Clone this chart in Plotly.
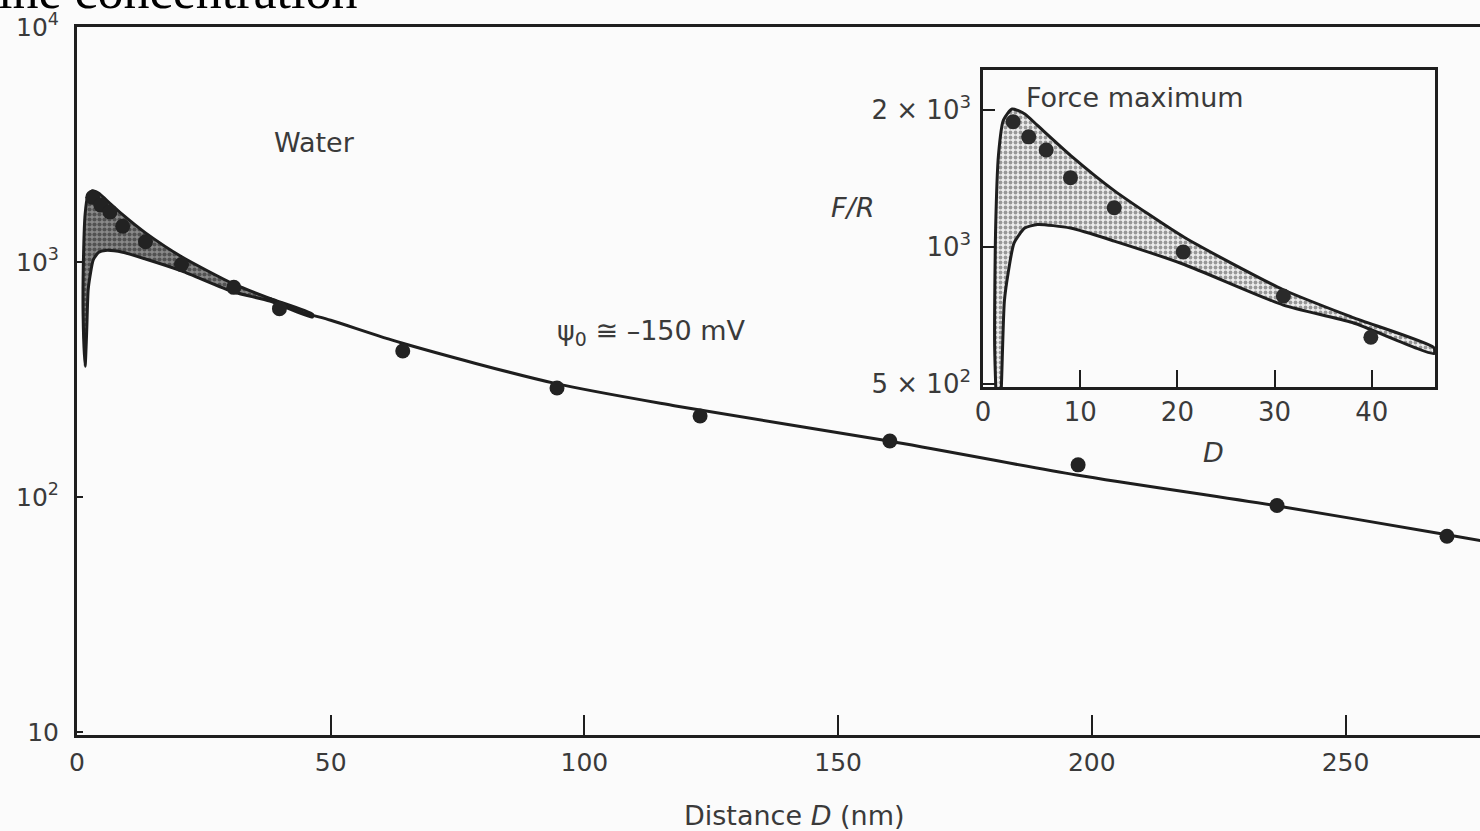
import plotly.graph_objects as go

# ---------------- data ----------------
# shaded band (range of theoretical force curves near contact)
band_outer_D = [1.6, 1.2, 1.3, 1.6, 2.1, 3.0, 4.3, 5.6, 9.0, 13.5, 20.7, 30.9, 38.0, 46.4]
band_outer_F = [360, 600, 1100, 1600, 1900, 2010, 1960, 1850, 1590, 1330, 1050, 805, 700, 600]
band_inner_D = [46.4, 38.0, 30.9, 20.7, 13.5, 9.0, 5.6, 4.3, 3.2, 2.6, 2.2, 1.9, 1.6]
band_inner_F = [583, 682, 745, 915, 1030, 1100, 1120, 1100, 1021, 880, 760, 500, 360]

# theoretical curve at larger separations
theory_D = [38, 44, 50, 64, 94, 118, 160, 197, 236, 270, 277]
theory_F = [700, 615, 565, 452, 305, 244, 173, 124, 92, 69, 65]

# measured points
exp_D = [3.1, 4.7, 6.5, 9.0, 13.5, 20.6, 30.9, 39.9, 64.2, 94.6, 122.8, 160.2, 197.3, 236.5, 270.0]
exp_F = [1884, 1746, 1634, 1419, 1219, 975, 780, 633, 418, 291, 221, 173, 137, 92, 68]

main_xticks = [0, 50, 100, 150, 200, 250]
main_yticks = [10, 100, 1000, 10000]
main_yticktext = ["10", "10<sup>2</sup>", "10<sup>3</sup>", "10<sup>4</sup>"]
inset_xticks = [0, 10, 20, 30, 40]
inset_yticks = [500, 1000, 2000]
inset_yticktext = ["5 × 10<sup>2</sup>", "10<sup>3</sup>", "2 × 10<sup>3</sup>"]

# ---------------- layout geometry ----------------
W_FIG, H_FIG = 1480, 831
L, R, T, B = 77, 1480, 27, 735
PW, PH = R - L, B - T


def px(x):
    return (x - L) / PW


def py(y):
    return (B - y) / PH


INK = "#1e1e1e"
TXT = "#3a3a3a"
FONT = "DejaVu Sans, Liberation Sans, Arial, sans-serif"

poly_D = band_outer_D + band_inner_D
poly_F = band_outer_F + band_inner_F

fig = go.Figure()

# main chart
fig.add_trace(go.Scatter(
    x=poly_D, y=poly_F, mode="lines", fill="toself",
    line=dict(color=INK, width=3, shape="spline", smoothing=0.6),
    fillcolor="#555555",
    fillpattern=dict(shape=".", fgcolor="#1a1a1a", bgcolor="#8a8a8a", size=5, solidity=0.55),
    xaxis="x", yaxis="y", showlegend=False, hoverinfo="skip"))
fig.add_trace(go.Scatter(
    x=theory_D, y=theory_F, mode="lines",
    line=dict(color=INK, width=3, shape="spline", smoothing=0.8),
    xaxis="x", yaxis="y", showlegend=False))
fig.add_trace(go.Scatter(
    x=exp_D, y=exp_F, mode="markers",
    marker=dict(color="#222222", size=15),
    xaxis="x", yaxis="y", showlegend=False))

# inset
fig.add_trace(go.Scatter(
    x=poly_D, y=poly_F, mode="lines", fill="toself",
    line=dict(color=INK, width=3, shape="spline", smoothing=0.6),
    fillcolor="#cccccc",
    fillpattern=dict(shape=".", fgcolor="#444444", bgcolor="#ececec", size=5, solidity=0.45),
    xaxis="x2", yaxis="y2", showlegend=False, hoverinfo="skip"))
fig.add_trace(go.Scatter(
    x=exp_D, y=exp_F, mode="markers",
    marker=dict(color="#2a2a2a", size=15),
    xaxis="x2", yaxis="y2", showlegend=False))

ix0, ix1, iy0, iy1 = 983, 1435, 70, 387

fig.update_layout(
    width=W_FIG, height=H_FIG,
    margin=dict(l=L, r=W_FIG - R, t=T, b=H_FIG - B),
    paper_bgcolor="#fbfbfb", plot_bgcolor="#fbfbfb",
    font=dict(family=FONT, color=TXT, size=24),
    xaxis=dict(
        domain=[0, 1], range=[0, (R - L) / 5.074],
        tickvals=main_xticks, ticks="inside", ticklen=20, tickwidth=2, tickcolor=INK,
        showline=True, linewidth=3, linecolor=INK, mirror=True,
        showgrid=False, zeroline=False,
        tickfont=dict(size=25, color=TXT), ticklabelstandoff=3),
    yaxis=dict(
        domain=[0, 1], type="log", range=[0.987, 4.0],
        tickvals=main_yticks, ticktext=main_yticktext,
        ticks="inside", ticklen=6, tickwidth=2, tickcolor=INK,
        showline=True, linewidth=3, linecolor=INK,
        showgrid=False, zeroline=False,
        tickfont=dict(size=25, color=TXT), ticklabelstandoff=10),
    xaxis2=dict(
        domain=[px(ix0), px(ix1)], anchor="y2", range=[0, 46.5],
        tickvals=inset_xticks, ticks="inside", ticklen=17, tickwidth=2, tickcolor=INK,
        showline=True, linewidth=2.5, linecolor=INK, mirror=True,
        showgrid=False, zeroline=False,
        tickfont=dict(size=26, color=TXT), ticklabelstandoff=0),
    yaxis2=dict(
        domain=[py(iy1), py(iy0)], anchor="x2", type="log", range=[2.692, 3.389],
        tickvals=inset_yticks, ticktext=inset_yticktext,
        ticks="inside", ticklen=12, tickwidth=2, tickcolor=INK,
        showline=True, linewidth=2.5, linecolor=INK, mirror=True,
        showgrid=False, zeroline=False,
        tickfont=dict(size=26, color=TXT), ticklabelstandoff=4),
)

ann = [
    dict(text="ine concentration", x=px(-4), y=py(-9), xanchor="left", yanchor="middle",
         font=dict(family="Liberation Serif, Times New Roman, serif", size=52, color="#000000")),
    dict(text="Water", x=px(314), y=py(142), xanchor="center", yanchor="middle",
         font=dict(size=27, color=TXT)),
    dict(text="ψ<sub>0</sub> ≅ –150 mV", x=px(651), y=py(332), xanchor="center", yanchor="middle",
         font=dict(size=27, color=TXT)),
    dict(text="<i>F/R</i>", x=px(852), y=py(208), xanchor="center", yanchor="middle",
         font=dict(size=27, color=TXT)),
    dict(text="Force maximum", x=px(1024), y=py(97), xanchor="left", yanchor="middle",
         font=dict(size=27, color=TXT)),
    dict(text="<i>D</i>", x=px(1213), y=py(452), xanchor="center", yanchor="middle",
         font=dict(size=27, color=TXT)),
    dict(text="Distance <i>D</i> (nm)", x=px(795), y=py(815), xanchor="center", yanchor="middle",
         font=dict(size=27, color=TXT)),
]
for a in ann:
    a.update(xref="paper", yref="paper", showarrow=False)
fig.update_layout(annotations=ann)

fig.write_html(
    "out.html",
    config={"displayModeBar": False},
    post_script="document.body.style.margin='0px';document.body.style.overflow='hidden';",
)
